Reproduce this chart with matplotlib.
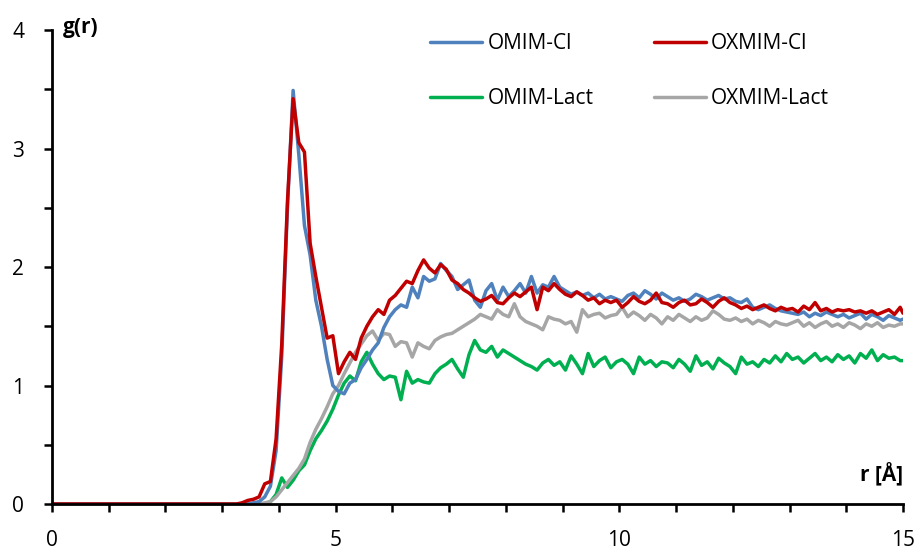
import numpy as np
import matplotlib
matplotlib.use("Agg")
import matplotlib.pyplot as plt

# r grid: 0, then 2.95..14.95 step 0.1, then 15.0
r = np.concatenate([[0.0], np.round(np.arange(2.95, 14.96, 0.1), 2), [15.0]])

omim_cl = [0.0,
    0, 0, 0, 0, 0, 0.0, 0.01, 0.02, 0.06, 0.15,
    0.45, 1.25, 2.50, 3.49, 2.95, 2.35, 2.10, 1.72, 1.50, 1.22,
    1.00, 0.95, 0.93, 1.02, 1.05, 1.15, 1.22, 1.30, 1.36, 1.49,
    1.58, 1.64, 1.68, 1.66, 1.83, 1.74, 1.92, 1.88, 1.90, 2.03,
    1.97, 1.92, 1.81, 1.85, 1.89, 1.72, 1.66, 1.80, 1.86, 1.72,
    1.83, 1.75, 1.80, 1.86, 1.78, 1.92, 1.78, 1.85, 1.83, 1.92,
    1.83, 1.80, 1.77, 1.79, 1.76, 1.78, 1.74, 1.77, 1.73, 1.75,
    1.73, 1.71, 1.76, 1.78, 1.74, 1.80, 1.77, 1.73, 1.78, 1.75,
    1.72, 1.74, 1.71, 1.73, 1.77, 1.75, 1.72, 1.74, 1.76, 1.73,
    1.74, 1.71, 1.70, 1.73, 1.66, 1.64, 1.66, 1.68, 1.65, 1.63,
    1.62, 1.61, 1.60, 1.62, 1.58, 1.61, 1.59, 1.62, 1.60, 1.58,
    1.60, 1.57, 1.59, 1.61, 1.56, 1.60, 1.58, 1.55, 1.59, 1.57,
    1.55, 1.56]

oxmim_cl = [0.0,
    0, 0, 0, 0, 0.01, 0.03, 0.04, 0.06, 0.17, 0.19,
    0.55, 1.35, 2.55, 3.42, 3.05, 2.97, 2.20, 1.92, 1.66, 1.40,
    1.42, 1.10, 1.20, 1.28, 1.22, 1.40, 1.50, 1.58, 1.64, 1.60,
    1.72, 1.76, 1.82, 1.88, 1.86, 1.97, 2.06, 1.99, 1.95, 2.02,
    1.98, 1.89, 1.86, 1.81, 1.78, 1.74, 1.71, 1.73, 1.76, 1.70,
    1.69, 1.74, 1.78, 1.75, 1.79, 1.83, 1.64, 1.83, 1.80, 1.86,
    1.81, 1.77, 1.75, 1.79, 1.76, 1.72, 1.74, 1.69, 1.72, 1.70,
    1.72, 1.66, 1.70, 1.75, 1.71, 1.69, 1.72, 1.78, 1.70, 1.69,
    1.66, 1.70, 1.72, 1.68, 1.69, 1.73, 1.70, 1.66, 1.71, 1.74,
    1.70, 1.68, 1.65, 1.67, 1.64, 1.66, 1.68, 1.65, 1.63, 1.66,
    1.64, 1.65, 1.62, 1.67, 1.64, 1.70, 1.63, 1.65, 1.62, 1.64,
    1.63, 1.64, 1.62, 1.63, 1.61, 1.63, 1.60, 1.62, 1.64, 1.60,
    1.66, 1.61]

omim_lact = [0.0,
    0, 0, 0, 0, 0, 0, 0, 0, 0.0, 0.02,
    0.08, 0.22, 0.14, 0.20, 0.28, 0.33, 0.45, 0.55, 0.62, 0.70,
    0.80, 0.92, 1.02, 1.08, 1.04, 1.20, 1.28, 1.18, 1.10, 1.05,
    1.08, 1.07, 0.88, 1.12, 1.02, 1.05, 1.03, 1.02, 1.10, 1.15,
    1.18, 1.22, 1.14, 1.07, 1.26, 1.38, 1.30, 1.28, 1.33, 1.24,
    1.30, 1.27, 1.24, 1.21, 1.18, 1.16, 1.13, 1.19, 1.22, 1.17,
    1.20, 1.13, 1.25, 1.18, 1.10, 1.27, 1.16, 1.21, 1.24, 1.15,
    1.20, 1.22, 1.18, 1.10, 1.24, 1.18, 1.21, 1.16, 1.20, 1.19,
    1.15, 1.22, 1.18, 1.12, 1.25, 1.17, 1.20, 1.14, 1.23, 1.19,
    1.16, 1.10, 1.24, 1.18, 1.20, 1.16, 1.22, 1.19, 1.25, 1.20,
    1.27, 1.22, 1.24, 1.19, 1.23, 1.27, 1.21, 1.24, 1.20, 1.26,
    1.22, 1.25, 1.19, 1.27, 1.23, 1.30, 1.21, 1.26, 1.23, 1.24,
    1.21, 1.21]

oxmim_lact = [0.0,
    0, 0, 0, 0, 0, 0, 0, 0, 0.01, 0.02,
    0.06, 0.12, 0.18, 0.24, 0.30, 0.38, 0.52, 0.63, 0.72, 0.82,
    0.93, 1.00, 1.10, 1.19, 1.28, 1.35, 1.42, 1.46, 1.38, 1.44,
    1.43, 1.33, 1.37, 1.36, 1.24, 1.36, 1.33, 1.31, 1.38, 1.41,
    1.43, 1.44, 1.47, 1.50, 1.53, 1.56, 1.60, 1.58, 1.56, 1.64,
    1.60, 1.58, 1.69, 1.58, 1.54, 1.52, 1.50, 1.47, 1.58, 1.56,
    1.55, 1.52, 1.54, 1.45, 1.64, 1.58, 1.60, 1.61, 1.57, 1.59,
    1.60, 1.66, 1.58, 1.62, 1.59, 1.55, 1.60, 1.57, 1.52, 1.58,
    1.55, 1.60, 1.57, 1.54, 1.58, 1.55, 1.57, 1.63, 1.60, 1.56,
    1.55, 1.57, 1.54, 1.56, 1.52, 1.55, 1.53, 1.50, 1.54, 1.52,
    1.51, 1.53, 1.55, 1.50, 1.53, 1.49, 1.52, 1.54, 1.50, 1.52,
    1.49, 1.53, 1.51, 1.48, 1.52, 1.50, 1.53, 1.49, 1.51, 1.50,
    1.52, 1.52]

labels = ["OMIM-Cl", "OXMIM-Cl", "OMIM-Lact", "OXMIM-Lact"]
colors = ["#4F81BD", "#C00000", "#00B050", "#A6A6A6"]

plt.rcParams['font.family'] = ['Open Sans', 'DejaVu Sans']

fig = plt.figure(figsize=(9.21, 5.54), dpi=100)
ax = fig.add_axes([52/921, 1-504/554, (903-52)/921, (504-30)/554])

lw = 2.5
kw = dict(lw=lw, solid_joinstyle='round', solid_capstyle='round')
l_green, = ax.plot(r, omim_lact, color=colors[2], label=labels[2], **kw)
l_gray, = ax.plot(r, oxmim_lact, color=colors[3], label=labels[3], **kw)
l_blue, = ax.plot(r, omim_cl, color=colors[0], label=labels[0], **kw)
l_red, = ax.plot(r, oxmim_cl, color=colors[1], label=labels[1], **kw)

ax.set_xlim(0, 15)
ax.set_ylim(0, 4)
for s in ["top", "right"]:
    ax.spines[s].set_visible(False)
for s in ["left", "bottom"]:
    ax.spines[s].set_linewidth(2.0)
    ax.spines[s].set_color("black")

ax.set_xticks(np.arange(0, 16, 1), minor=True)
ax.set_xticks([0, 5, 10, 15])
ax.set_yticks([0, 1, 2, 3, 4])
ax.set_yticks(np.arange(0, 4.01, 0.5), minor=True)
ax.tick_params(axis='both', which='both', direction='out', length=6, width=1.8, color='black')
ax.tick_params(axis='x', which='major', pad=13, labelsize=15)
ax.tick_params(axis='y', which='major', pad=14, labelsize=15)

fig.text(63/921, 1-27/554, "g(r)", fontsize=15, fontweight='bold', va='center', ha='left')
fig.text(903/921, 1-475/554, "r [Å]", fontsize=15, fontweight='bold', va='center', ha='right')

leg = fig.legend(handles=[l_blue, l_green, l_red, l_gray], ncol=2, loc='upper left',
                 bbox_to_anchor=(430/921, 1-33/554), frameon=False, fontsize=15,
                 handlelength=2.5, handletextpad=0.25, columnspacing=2.9,
                 labelspacing=1.65, borderpad=0, borderaxespad=0)

fig.savefig("out.png", dpi=100)
